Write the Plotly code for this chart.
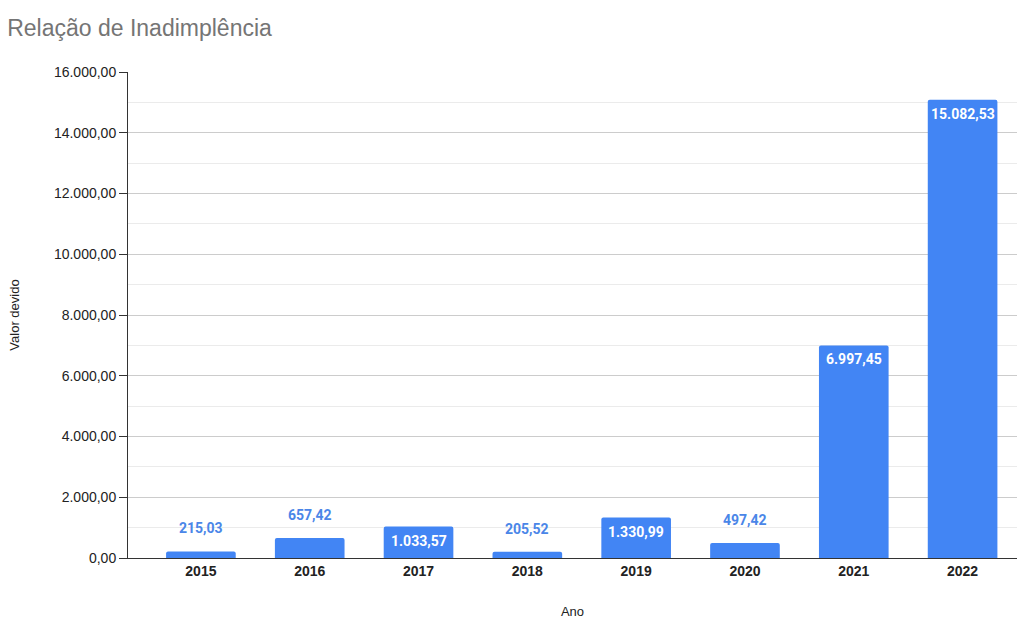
import plotly.graph_objects as go

anos = ["2015", "2016", "2017", "2018", "2019", "2020", "2021", "2022"]
valores = [215.03, 657.42, 1033.57, 205.52, 1330.99, 497.42, 6997.45, 15082.53]
label_inside = [False, False, True, False, True, False, True, True]
y_ticks = [0, 2000, 4000, 6000, 8000, 10000, 12000, 14000, 16000]

BLUE = "#4285f4"
LABEL_BLUE = "#4a86e8"
AXFONT = "Liberation Sans"

fig = go.Figure()
fig.add_trace(go.Bar(
    x=anos, y=valores, marker=dict(color=BLUE, cornerradius=2, line=dict(width=0)),
    hoverinfo="skip",
))

def fmt(v):
    s = f"{v:,.2f}"
    return s.replace(",", "X").replace(".", ",").replace("X", ".")

for i, (v, ins) in enumerate(zip(valores, label_inside)):
    if ins:
        fig.add_annotation(x=i, y=v, text=f"<b>{fmt(v)}</b>", showarrow=False,
                           yanchor="top", yshift=-4,
                           font=dict(family="Roboto", size=14, color="white"))
    else:
        fig.add_annotation(x=i, y=v, text=f"<b>{fmt(v)}</b>", showarrow=False,
                           yanchor="bottom", yshift=13,
                           font=dict(family="Roboto", size=14, color=LABEL_BLUE))

fig.update_layout(
    width=1025, height=619,
    margin=dict(l=128, r=8, t=72, b=61),
    paper_bgcolor="white", plot_bgcolor="white",
    separators=",.",
    bargap=0.36,
    showlegend=False,
    font=dict(family=AXFONT, size=12, color="#222222"),
    title=dict(text="Relação de Inadimplência", x=0.007, xanchor="left",
               y=0.955, yanchor="middle",
               font=dict(family=AXFONT, size=23, color="#757575")),
)
fig.update_yaxes(
    automargin=False,
    range=[0, 16000], tickvals=y_ticks, tickformat=",.2f",
    showgrid=True, gridcolor="#cccccc", gridwidth=1,
    minor=dict(dtick=1000, showgrid=True, gridcolor="#ebebeb", ticks=""),
    ticks="outside", ticklen=8, tickcolor="#333333", tickwidth=1,
    showline=True, linecolor="#333333", linewidth=1,
    zeroline=False,
    tickfont=dict(family=AXFONT, size=14, color="#222222"),
    title=dict(text="Valor devido", font=dict(family=AXFONT, size=13, color="#222222"), standoff=31),
)
fig.update_xaxes(
    type="category", automargin=False,
    categoryorder="array", categoryarray=anos,
    range=[-0.67, len(anos) - 0.5],
    showline=True, linecolor="#333333", linewidth=1, ticks="",
    tickfont=dict(family=AXFONT, size=14, color="#222222", weight="bold"),
    title=dict(text="Ano", font=dict(family=AXFONT, size=13, color="#222222"), standoff=30),
)

fig.write_html("out.html", config={"displayModeBar": False},
               post_script="document.body.style.margin='0';")
